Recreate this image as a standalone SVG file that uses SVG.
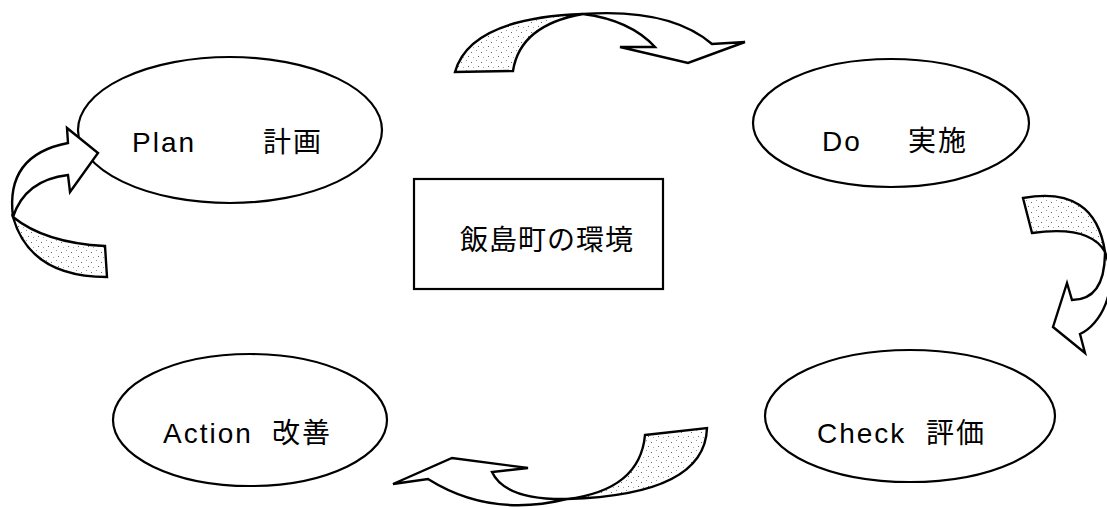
<svg xmlns="http://www.w3.org/2000/svg" width="1107" height="507" viewBox="0 0 1107 507">
<style>
.node ellipse,.node rect{fill:#fff;stroke:#000;stroke-width:2.2}
.lbl{font-family:"Liberation Sans","Noto Sans CJK JP",sans-serif;font-size:28px;fill:#000;letter-spacing:2px}
.arrow path{stroke:#000;stroke-width:2.4;stroke-linejoin:miter}
.front{fill:#fff}
.back{fill:url(#stipple)}
</style>
<defs>
<pattern id="stipple" width="10" height="10" patternUnits="userSpaceOnUse">
<rect width="10" height="10" fill="#fff"/>
<rect x="1" y="2" width="1" height="1" fill="#666"/>
<rect x="6" y="0" width="1" height="1" fill="#999"/>
<rect x="8" y="6" width="1" height="1" fill="#666"/>
<rect x="3" y="7" width="1" height="1" fill="#aaa"/>
</pattern>
</defs>
<rect width="1107" height="507" fill="#fff"/>

<g id="node-plan" class="node">
<ellipse cx="230" cy="130" rx="152" ry="73"/>
<text class="lbl" x="132" y="152">Plan</text>
<text class="lbl" x="263" y="152">計画</text>
</g>
<g id="node-do" class="node">
<ellipse cx="891" cy="123" rx="138" ry="64"/>
<text class="lbl" x="822" y="151">Do</text>
<text class="lbl" x="908" y="151">実施</text>
</g>
<g id="node-check" class="node">
<ellipse cx="910" cy="416" rx="145" ry="66"/>
<text class="lbl" x="817" y="443">Check</text>
<text class="lbl" x="926" y="443">評価</text>
</g>
<g id="node-action" class="node">
<ellipse cx="250" cy="420" rx="137" ry="66"/>
<text class="lbl" x="163" y="443">Action</text>
<text class="lbl" x="272" y="443">改善</text>
</g>
<g id="node-center" class="node">
<rect x="414" y="179" width="249" height="110"/>
<text class="lbl" x="460" y="250" style="letter-spacing:1px">飯島町の環境</text>
</g>

<g id="connectors" class="arrow">
<!-- top: Plan -> Do -->
<path class="back" d="M455,72 Q470,18 583,14 Q520,25 513,71 Z"/>
<path class="front" d="M583,14 Q670,8 712,44 L745,42 L688,63 L620,47 L655,47 Q630,20 583,14 Z"/>
<!-- right: Do -> Check -->
<path class="back" d="M1023,198 Q1095,185 1105,252 Q1090,225 1032,233 Z"/>
<path class="front" d="M1105,252 Q1105,300 1072,300 L1067,283 L1053,327 L1085,353 L1080,334 C1100,325 1120,290 1105,252 Z"/>
<!-- bottom: Check -> Action -->
<path class="back" d="M645,435 L707,428 Q705,495 567,499 Q640,490 645,435 Z"/>
<path class="front" d="M567,499 Q490,518 428,479 L393,484 L452,458 L528,468 L492,472 Q505,500 567,499 Z"/>
<!-- left: Action -> Plan -->
<path class="back" d="M13,217 Q45,243 105,246 L107,277 Q30,277 13,217 Z"/>
<path class="front" d="M13,217 Q5,155 68,143 L67,128 L98,153 L70,192 L68,175 Q25,180 13,217 Z"/>
</g>
</svg>
